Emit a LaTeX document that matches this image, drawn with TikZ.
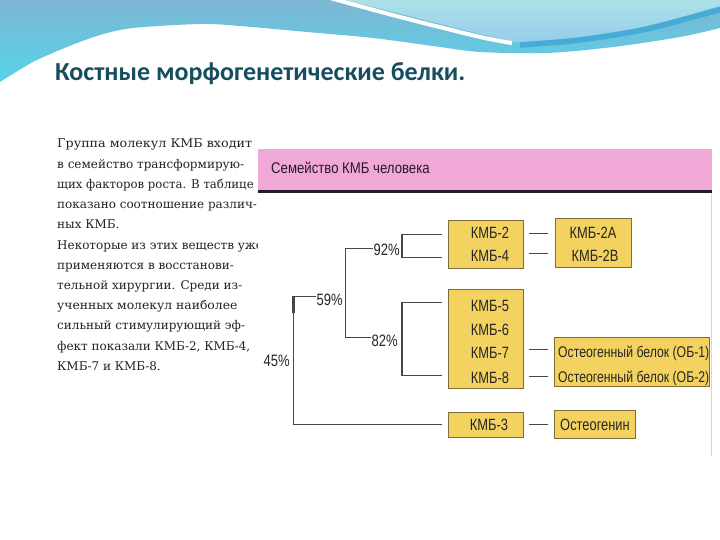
\documentclass[tikz,border=0pt]{standalone}
\usepackage{fontspec}
\setmainfont{DejaVu Serif}
\newfontfamily\titlefont{Carlito}
\newfontfamily\bodyfont{DejaVu Serif}
\newfontfamily\narrowfont[FakeStretch=0.79]{Liberation Sans}
\newfontfamily\headfont[FakeStretch=0.85]{Liberation Sans}
\usetikzlibrary{calc}
\definecolor{wTop}{RGB}{125,182,212}
\definecolor{wBot}{RGB}{85,212,232}
\definecolor{lcTop}{RGB}{172,226,230}
\definecolor{lcBot}{RGB}{150,205,235}
\definecolor{dStripe}{RGB}{70,172,215}
\definecolor{titlecol}{RGB}{22,78,96}
\definecolor{bodycol}{RGB}{35,35,35}
\definecolor{pinkband}{RGB}{240,168,214}
\definecolor{darkline}{RGB}{40,25,40}
\definecolor{ybox}{RGB}{243,210,95}
\definecolor{yborder}{RGB}{125,108,62}
\definecolor{treecol}{RGB}{70,70,70}
\definecolor{panelline}{RGB}{215,215,215}
\tikzset{
  boxstyle/.style={fill=ybox, draw=yborder, line width=0.8pt, inner sep=0pt},
  boxtext/.style={font=\narrowfont\fontsize{16.3}{19}\selectfont, text=black!85, inner sep=0pt, anchor=base},
  obtext/.style={font=\narrowfont\fontsize{15.5}{19}\selectfont, text=black!85, inner sep=0pt, anchor=base west},
  pct/.style={font=\narrowfont\fontsize{16.5}{19}\selectfont, text=black!85, inner sep=0pt, anchor=base east},
  tree/.style={draw=treecol, line width=1.3pt},
  bodyline/.style={font=\bodyfont\fontsize{12}{14}\selectfont, text=bodycol, inner sep=0pt, anchor=base west}
}
\begin{document}
\begin{tikzpicture}[x=1pt,y=-1pt]
\useasboundingbox (0,0) rectangle (720,540);
\fill[white] (0,0) rectangle (720,540);
% background waves
\shade[top color=wTop, bottom color=wBot] (0,0) -- (720,0) -- (720,28) -- plot[smooth] coordinates {(720,28) (680,37) (613,47) (547,53) (480,52) (440,47) (373,38) (307,32) (240,26) (200,24) (133,28) (100,35) (67,47) (33,62) (0,82)} -- cycle;
\shade[top color=lcTop, bottom color=lcBot] (345,0) -- (720,0) -- (720,6) -- plot[smooth] coordinates {(720,6) (647,26) (580,37) (523,42)} -- plot[smooth] coordinates {(515,42) (480,34) (405,15) (345,0)} -- cycle;
\draw[white, line width=4pt] plot[smooth] coordinates {(330,-2) (400,17) (480,37) (512,43)};
\draw[dStripe, line width=5.5pt] plot[smooth] coordinates {(520,45) (580,40) (647,29) (722,9)};
% title
\node[anchor=base west, inner sep=0pt, font=\titlefont\bfseries\fontsize{26}{30}\selectfont, text=titlecol] (title) at (55,81) {Костные морфогенетические белки.};
% body text
\foreach \t/\s [count=\i] in {{Группа молекул КМБ входит}/1.06,{в семейство трансформирую-}/1.0,{щих факторов роста. В таблице}/0.975,{показано соотношение различ-}/1.0,{ных КМБ.}/1.0,{Некоторые из этих веществ уже}/1.0,{применяются в восстанови-}/1.0,{тельной хирургии. Среди из-}/1.0,{ученных молекул наиболее}/1.03,{сильный стимулирующий эф-}/1.0,{фект показали КМБ-2, КМБ-4,}/1.0,{КМБ-7 и КМБ-8.}/1.0}{
  \node[bodyline, xscale=\s] (l\i) at (57,{148+20.2*(\i-1)}) {\t};
}
% panel
\fill[white] (258,140) rectangle (711,456);
\draw[panelline, line width=0.8pt] (711,190) -- (711,456);
\fill[pinkband] (258,149) rectangle (712,190);
\fill[darkline] (258,190) rectangle (712,193);
\node[anchor=base west, inner sep=0pt, font=\headfont\fontsize{15.5}{18}\selectfont, text=darkline] (head) at (271,173.5) {Семейство КМБ человека};
% boxes
\node[boxstyle, minimum width=75, minimum height=48] (b24) at (485.5,244) {};
\node[boxstyle, minimum width=76, minimum height=49] (b2ab) at (593,242.5) {};
\node[boxstyle, minimum width=75, minimum height=99] (b58) at (485.5,338.5) {};
\node[boxstyle, minimum width=155, minimum height=49] (bob) at (631.5,361.5) {};
\node[boxstyle, minimum width=75, minimum height=25] (b3) at (485.5,424.5) {};
\node[boxstyle, minimum width=81, minimum height=28] (bog) at (594.5,424) {};
% box texts
\node[boxtext] (t2) at (490,238) {КМБ-2};
\node[boxtext] (t4) at (490,261) {КМБ-4};
\node[boxtext] (t2a) at (593,238) {КМБ-2А};
\node[boxtext] (t2b) at (595,261) {КМБ-2В};
\node[boxtext] (t5) at (490,311) {КМБ-5};
\node[boxtext] (t6) at (490,335) {КМБ-6};
\node[boxtext] (t7) at (490,358) {КМБ-7};
\node[boxtext] (t8) at (490,383) {КМБ-8};
\node[boxtext] (t3) at (489,430) {КМБ-3};
\node[obtext] (ob1) at (558,357) {Остеогенный белок (ОБ-1)};
\node[obtext] (ob2) at (558,382) {Остеогенный белок (ОБ-2)};
\node[boxtext] (og) at (595,430) {Остеогенин};
% percent labels
\node[pct] (p92) at (400,255) {92\%};
\node[pct] (p59) at (343,305) {59\%};
\node[pct] (p82) at (398,346) {82\%};
\node[pct] (p45) at (290,366) {45\%};
% tree
\draw[tree] ($(p59.west)+(-1,-3)$) -- ++(-22,0) coordinate (r45) |- ($(b3.west)+(-6,0)$);
\draw[treecol, line width=2.6pt] (r45) -- ++(0,17);
\draw[tree] ($(p92.west)+(-1,-1)$) -- ++(-27,0) |- ($(p82.west)+(-1,-3)$);
\draw[tree] ($(b24.west |- t2)+(-6,2)$) -| ($(p92.east)+(2,0)$) |- ($(b24.west |- t4)+(-6,2)$);
\draw[tree] ($(b58.west |- t5)+(-6,-3)$) -| ($(p82.east)+(4,0)$) |- ($(b58.west |- t8)+(-6,-2)$);
% dashes
\draw[tree] ($(b24.east |- t2)+(6,1)$) -- ($(b2ab.west |- t2)+(-7,1)$);
\draw[tree] ($(b24.east |- t4)+(6,-2)$) -- ($(b2ab.west |- t4)+(-7,-2)$);
\draw[tree] ($(b58.east |- t7)+(6,-3)$) -- ($(bob.west |- t7)+(-6,-3)$);
\draw[tree] ($(b58.east |- t8)+(6,-1)$) -- ($(bob.west |- t8)+(-6,-1)$);
\draw[tree] ($(b3.east |- t3)+(6,0)$) -- ($(bog.west |- t3)+(-6,0)$);
\end{tikzpicture}
\end{document}
